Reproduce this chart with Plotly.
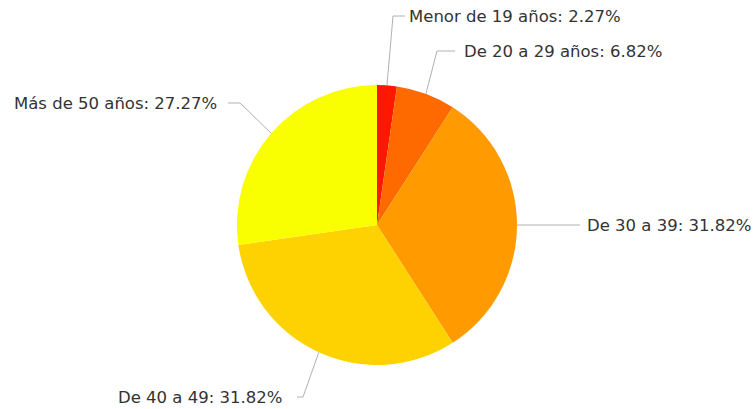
import numpy as np
import plotly.graph_objects as go

# datos
categorias = ["Menor de 19 años", "De 20 a 29 años", "De 30 a 39", "De 40 a 49", "Más de 50 años"]
porcentajes = [2.27, 6.82, 31.82, 31.82, 27.27]
colores = ["#FF1800", "#FF6A00", "#FF9A00", "#FDD200", "#FAFF00"]

W, H = 754, 409
mt, mb = 85, 44
R = (H - mt - mb) / 2
cx, cy = W / 2, mt + R

# codo de cada linea guia (pixeles), largo del tramo horizontal, hueco hasta el texto
codos = [(393, 16), (437, 51), (560, 225), (303, 397), (240, 103)]
tramos = [12, 18, 20, -6, -12]
huecos = [2, 7, 5, -13, -9]


def px(x, y):
    return x / W, (H - mb - y) / (H - mt - mb)


fig = go.Figure(go.Pie(
    labels=categorias, values=porcentajes, sort=False, direction="clockwise",
    marker=dict(colors=colores, line=dict(width=0)),
    textinfo="none", hoverinfo="label+percent", showlegend=False,
))

total = sum(porcentajes)
acum = 0
shapes, anots = [], []
for cat, v, (ex, ey), tr, hu in zip(categorias, porcentajes, codos, tramos, huecos):
    ang = np.radians((acum + v / 2) / total * 360)
    acum += v
    ax, ay = cx + R * np.sin(ang), cy - R * np.cos(ang)
    fx = ex + tr
    p0, p1, p2 = px(ax, ay), px(ex, ey), px(fx, ey)
    shapes.append(dict(type="path", xref="paper", yref="paper",
                       path=f"M {p0[0]},{p0[1]} L {p1[0]},{p1[1]} L {p2[0]},{p2[1]}",
                       line=dict(color="#B0B0B0", width=1)))
    t = px(fx + hu, ey)
    anots.append(dict(x=t[0], y=t[1], xref="paper", yref="paper", showarrow=False,
                      text=f"{cat}: {v:.2f}%", xanchor="left" if tr > 0 else "right",
                      yanchor="middle", font=dict(size=16.5, color="#333333")))

fig.update_layout(
    width=W, height=H, margin=dict(l=0, r=0, t=mt, b=mb),
    paper_bgcolor="white", plot_bgcolor="white",
    font=dict(family="DejaVu Sans"),
    shapes=shapes, annotations=anots,
)
fig.write_html("out.html", config={"displayModeBar": False},
               post_script="document.body.style.margin='0';")
